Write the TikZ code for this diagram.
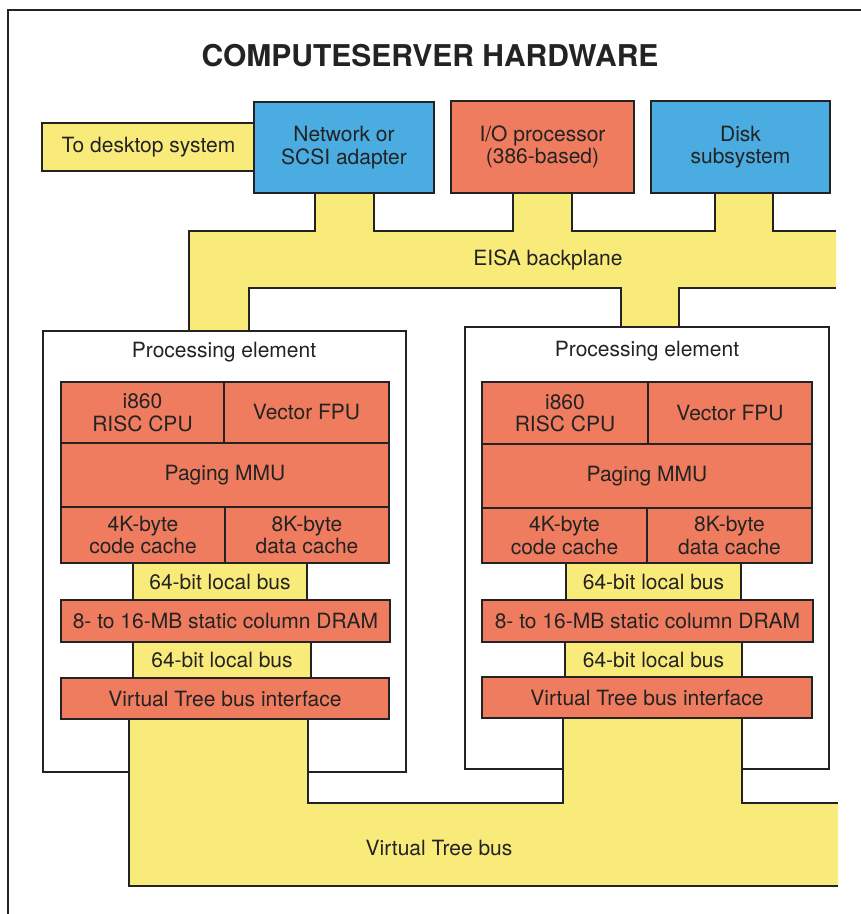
\documentclass[tikz,border=0pt]{standalone}
\usepackage{fontspec}
\setmainfont{TeX Gyre Heros}
\definecolor{ylw}{RGB}{249,235,122}
\definecolor{sal}{RGB}{239,124,94}
\definecolor{blu}{RGB}{74,172,224}
\definecolor{ink}{RGB}{35,35,35}
\newcommand\mybox[7]{\node[#2, minimum width={#5-#3}, minimum height={#6-#4}] (#1) at ({(#3+#5)/2},{(#4+#6)/2}) {#7};}
\begin{document}
\begin{tikzpicture}[x=1pt,y=-1pt,
  blk/.style={draw=ink, line width=1.2pt, inner sep=0pt, align=center, text=ink,
    font=\fontsize{21}{22.5}\selectfont},
  busline/.style={draw=ink, line width=1.2pt, line join=miter},
  lbl/.style={text=ink, inner sep=0pt, font=\fontsize{21}{22.5}\selectfont}]
\useasboundingbox (0,0) rectangle (861,914);
\fill[white] (0,0) rectangle (861,914);
% frame
\draw[ink, line width=2pt] (8,914) -- (8,10) -- (861,10);
% title
\node[text=ink, font=\fontsize{30}{32}\selectfont\bfseries] (title) at (430,56) {COMPUTESERVER HARDWARE};
% EISA backplane
\fill[ylw] (189,331) -- (189,231) -- (315,231) -- (315,193) -- (374,193) -- (374,231)
  -- (513,231) -- (513,193) -- (572,193) -- (572,231) -- (715,231) -- (715,193)
  -- (773,193) -- (773,231) -- (836,231) -- (836,288) -- (679,288) -- (679,327)
  -- (621,327) -- (621,288) -- (249,288) -- (249,331) -- cycle;
\draw[busline] (189,331) -- (189,231) -- (315,231) -- (315,193);
\draw[busline] (374,193) -- (374,231) -- (513,231) -- (513,193);
\draw[busline] (572,193) -- (572,231) -- (715,231) -- (715,193);
\draw[busline] (773,193) -- (773,231) -- (836,231);
\draw[busline] (836,288) -- (679,288) -- (679,327);
\draw[busline] (621,327) -- (621,288) -- (249,288) -- (249,331);
\node[lbl] (eisa) at (548,260) {EISA backplane};
% top boxes
\mybox{desk}{blk, fill=ylw}{42}{123}{255}{171}{To desktop system}
\mybox{net}{blk, fill=blu}{254}{102}{434}{193}{Network or\\SCSI adapter}
\mybox{io}{blk, fill=sal}{451}{101}{634}{193}{I/O processor\\(386-based)}
\mybox{disk}{blk, fill=blu}{651}{101}{830}{193}{Disk\\subsystem}
% processing elements
\mybox{peL}{blk, fill=white}{43}{331}{406}{772}{}
\mybox{peR}{blk, fill=white}{465}{327}{829}{769}{}
\node[lbl] (peLt) at (224,352) {Processing element};
\node[lbl] (peRt) at (647,351) {Processing element};
% Virtual Tree bus
\fill[ylw] (129,719) -- (129,886) -- (838,886) -- (838,803) -- (742,803) -- (742,718)
  -- (563,718) -- (563,803) -- (308,803) -- (308,719) -- cycle;
\draw[busline] (129,719) -- (129,886) -- (838,886);
\draw[busline] (308,719) -- (308,803) -- (563,803) -- (563,718);
\draw[busline] (742,718) -- (742,803) -- (838,803);
\node[lbl] (vtb) at (439,848) {Virtual Tree bus};
% left PE internals
\mybox{cpuL}{blk, fill=sal}{61}{382}{224}{443}{i860\\RISC CPU}
\mybox{fpuL}{blk, fill=sal}{224}{382}{389}{443}{Vector FPU}
\mybox{mmuL}{blk, fill=sal}{61}{443}{389}{507}{Paging MMU}
\mybox{codeL}{blk, fill=sal}{61}{507}{225}{563}{4K-byte\\code cache}
\mybox{dataL}{blk, fill=sal}{225}{507}{389}{563}{8K-byte\\data cache}
\mybox{lbaL}{blk, fill=ylw}{133}{563}{307}{600}{64-bit local bus}
\mybox{dramL}{blk, fill=sal}{61}{600}{390}{642}{8- to 16-MB static column DRAM}
\mybox{lbbL}{blk, fill=ylw}{133}{642}{311}{678}{64-bit local bus}
\mybox{vtiL}{blk, fill=sal}{61}{678}{389}{719}{Virtual Tree bus interface}
% right PE internals
\mybox{cpuR}{blk, fill=sal}{482}{382}{648}{444}{i860\\RISC CPU}
\mybox{fpuR}{blk, fill=sal}{648}{382}{812}{444}{Vector FPU}
\mybox{mmuR}{blk, fill=sal}{482}{444}{812}{508}{Paging MMU}
\mybox{codeR}{blk, fill=sal}{482}{508}{647}{563}{4K-byte\\code cache}
\mybox{dataR}{blk, fill=sal}{647}{508}{812}{563}{8K-byte\\data cache}
\mybox{lbaR}{blk, fill=ylw}{566}{563}{741}{600}{64-bit local bus}
\mybox{dramR}{blk, fill=sal}{482}{600}{813}{642}{8- to 16-MB static column DRAM}
\mybox{lbbR}{blk, fill=ylw}{565}{642}{742}{677}{64-bit local bus}
\mybox{vtiR}{blk, fill=sal}{482}{677}{812}{718}{Virtual Tree bus interface}
\end{tikzpicture}
\end{document}
